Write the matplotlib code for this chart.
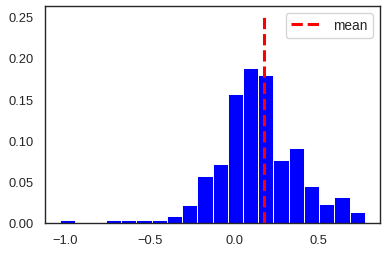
import numpy as np
import matplotlib
matplotlib.use("Agg")
from matplotlib import pyplot as plt

# histogram: 20 bins, heights as fractions of samples
bin_left = -1.03
bin_right = 0.775
n_bins = 20
heights = [0.0032, 0.0, 0.0, 0.0032, 0.0032, 0.0032, 0.0032, 0.0089, 0.0217,
           0.0568, 0.0717, 0.1558, 0.1872, 0.1787, 0.0761, 0.0906, 0.0447,
           0.0229, 0.0314, 0.0133]
mean_value = 0.177
mean_top = 0.25
x_ticks = [-1.0, -0.5, 0.0, 0.5]
y_ticks = [0.00, 0.05, 0.10, 0.15, 0.20, 0.25]

plt.rcParams['font.family'] = ['Liberation Sans', 'DejaVu Sans']
plt.rcParams['font.size'] = 9.3

edges = np.linspace(bin_left, bin_right, n_bins + 1)
centers = (edges[:-1] + edges[1:]) / 2

fig = plt.figure(figsize=(3.86, 2.55), dpi=100)
ax = fig.add_axes([0.1166, 0.1216, 0.9845 - 0.1166, 0.9725 - 0.1216])

ax.hist(centers, bins=edges, weights=heights, color='blue',
        edgecolor='white', linewidth=0.7)
ax.plot([mean_value, mean_value], [0, mean_top], color='red',
        linestyle='--', linewidth=2.2, label='mean')

ax.set_xticks(x_ticks)
ax.set_yticks(y_ticks)
ax.set_ylim(0, mean_top * 1.05)
ax.tick_params(length=0, pad=8, colors='.15')
for s in ax.spines.values():
    s.set_color('.15')
    s.set_linewidth(1.0)

leg = ax.legend(loc='upper right', fancybox=True, framealpha=0.8,
                fontsize=9.8, handlelength=2.1, handletextpad=1.0)
leg.get_frame().set_edgecolor('.8')
for t in leg.get_texts():
    t.set_color('.15')

fig.savefig('out.png', dpi=100)
